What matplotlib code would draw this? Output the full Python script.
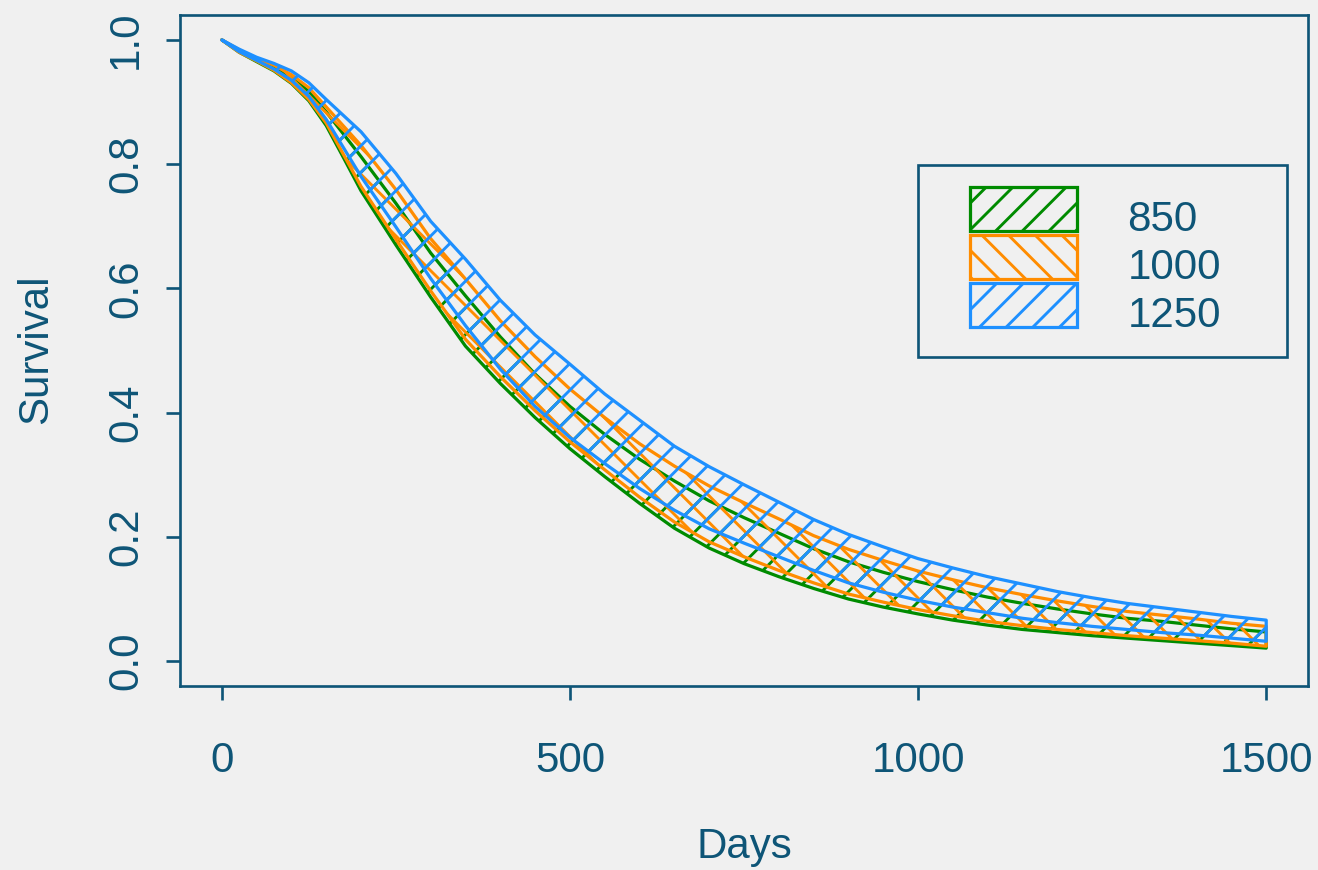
import matplotlib
matplotlib.use("Agg")
import matplotlib.pyplot as plt
import numpy as np
from matplotlib.patches import Rectangle

INK = "#0E5577"
BG = "#F0F0F0"
GREEN = "#008B00"
ORANGE = "#FF8C00"
BLUE = "#1E90FF"
FS = 37.8  # ~42 px a 80 dpi

# Donnees (bandes de survie)
days = [0, 25, 50, 75, 100, 125, 150, 175, 200, 250, 300, 350, 400, 450,
        500, 550, 600, 650, 700, 750, 800, 850, 900, 950, 1000, 1050, 1100,
        1150, 1200, 1250, 1300, 1350, 1400, 1450, 1500]

lo_850 = [1.0, .980, .965, .950, .930, .902, .862, .810, .757, .670, .586,
          .507, .447, .392, .342, .297, .254, .214, .182, .157, .136, .117,
          .100, .087, .076, .066, .058, .051, .046, .041, .037, .033, .029,
          .025, .021]
hi_850 = [1.0, .983, .969, .957, .940, .917, .884, .848, .812, .737, .657,
          .588, .522, .462, .410, .365, .325, .290, .258, .231, .206, .181,
          .160, .143, .128, .115, .103, .093, .084, .076, .069, .064, .058,
          .052, .047]

lo_1000 = [1.0, .980, .966, .951, .931, .904, .866, .815, .764, .679, .596,
           .518, .458, .403, .353, .308, .264, .224, .192, .168, .146, .126,
           .108, .095, .083, .073, .064, .057, .051, .046, .041, .037, .033,
           .029, .024]
hi_1000 = [1.0, .984, .970, .959, .944, .923, .892, .861, .830, .759, .680,
           .615, .548, .490, .438, .392, .350, .314, .282, .255, .229, .202,
           .180, .162, .145, .131, .118, .107, .097, .088, .080, .074, .068,
           .061, .056]

lo_1250 = [1.0, .981, .967, .953, .935, .909, .872, .826, .780, .699, .616,
           .540, .470, .410, .360, .318, .278, .243, .213, .190, .168, .146,
           .126, .111, .098, .087, .078, .069, .062, .056, .051, .046, .042,
           .037, .032]
hi_1250 = [1.0, .985, .972, .962, .950, .931, .904, .878, .852, .785, .708,
           .647, .581, .525, .478, .430, .388, .346, .313, .284, .256, .228,
           .204, .184, .165, .150, .136, .124, .112, .102, .093, .086, .079,
           .072, .066]

groups = ["850", "1000", "1250"]
x_ticks = [0, 500, 1000, 1500]
y_ticks = [0.0, 0.2, 0.4, 0.6, 0.8, 1.0]

plt.rcParams["font.family"] = ["Liberation Sans", "DejaVu Sans"]
plt.rcParams["hatch.linewidth"] = 2.6

fig = plt.figure(figsize=(1318 / 80, 870 / 80), dpi=80)
fig.patch.set_facecolor(BG)
ax = fig.add_axes([180 / 1318, 1 - 686 / 870, 1128 / 1318, 671 / 870])
ax.set_facecolor(BG)

bands = [(lo_850, hi_850, GREEN, "/"),
         (lo_1000, hi_1000, ORANGE, "\\"),
         (lo_1250, hi_1250, BLUE, "/")]

for lo, hi, col, hatch in bands:
    ax.fill_between(days, lo, hi, facecolor="none", edgecolor=col,
                    hatch=hatch, linewidth=2.9, joinstyle="round")

ax.set_xlim(-60, 1560)
ax.set_ylim(-0.04, 1.04)

ax.set_xticks(x_ticks)
ax.set_xticklabels([str(v) for v in x_ticks])
ax.set_yticks(y_ticks)
ax.set_yticklabels([f"{v:.1f}" for v in y_ticks], rotation=90, va="center")
ax.tick_params(axis="both", length=12.6, width=2.4, colors=INK,
               labelsize=FS, direction="out")
ax.tick_params(axis="x", pad=36.5)
ax.tick_params(axis="y", pad=18)
for sp in ax.spines.values():
    sp.set_color(INK)
    sp.set_linewidth(2.4)

# Titres des axes
fig.text(744 / 1318, 1 - 858 / 870, "Days", ha="center", va="baseline",
         fontsize=FS, color=INK)
fig.text(47 / 1318, 1 - 349 / 870, "Survival", ha="center", va="baseline",
         rotation=90, rotation_mode="anchor", fontsize=FS, color=INK)

# Legende
ax.add_patch(Rectangle((0.654, 0.490), 0.327, 0.286, transform=ax.transAxes,
                       fill=False, edgecolor=INK, linewidth=2.4, zorder=5))
for i, (name, band) in enumerate(zip(groups, bands)):
    y = 0.678 - i * 0.0715
    ax.add_patch(Rectangle((0.700, y), 0.0949, 0.0656,
                           transform=ax.transAxes, facecolor="none",
                           edgecolor=band[2], hatch=band[3], linewidth=2.9,
                           zorder=5))
    ax.text(0.840, y, name, transform=ax.transAxes, ha="left",
            va="baseline", fontsize=FS, color=INK)

fig.savefig("out.png", dpi=80, facecolor=BG)
plt.close(fig)
